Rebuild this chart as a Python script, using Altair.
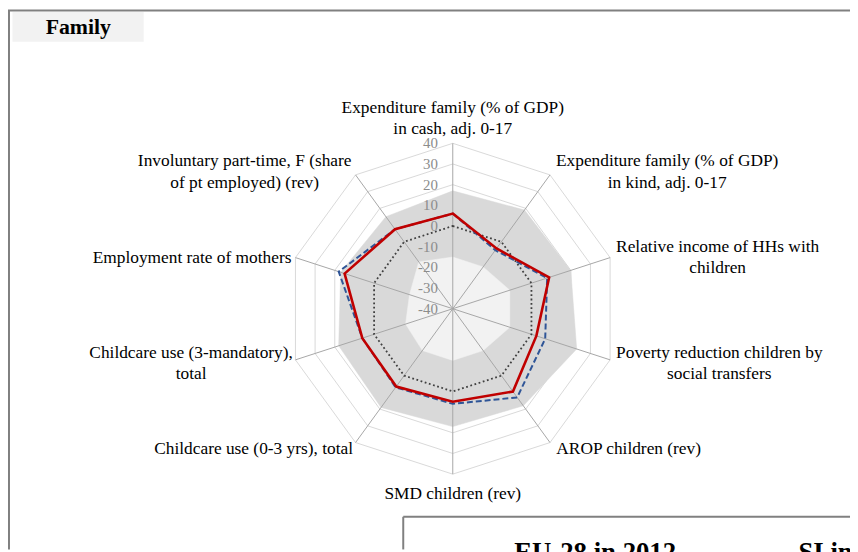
import altair as alt
import pandas as pd
import math

# ---------------- data ----------------
axis_labels = [
    "Expenditure family (% of GDP)\nin cash, adj. 0-17",
    "Expenditure family (% of GDP)\nin kind, adj. 0-17",
    "Relative income of HHs with\nchildren",
    "Poverty reduction children by\nsocial transfers",
    "AROP children (rev)",
    "SMD children (rev)",
    "Childcare use (0-3 yrs), total",
    "Childcare use (3-mandatory),\ntotal",
    "Employment rate of mothers",
    "Involuntary part-time, F (share\nof pt employed) (rev)",
]
country_2012 = [6, -4, 9, 2.5, 9.5, 5, 6.5, 6, 15, 7.5]
country_2008 = [6, -5, 8, 7, 13, 6, 7, 6, 18, 7.5]
eu_average = [0, 0, 0, 0, 0, 0, 0, 0, 0, 0]
band_max = [17, 19, 20, 23, 18, 17, 19, 18, 17, 15]
band_min = [-15, -15, -11, -11, -15, -15, -15, -16, -18, -12]
ticks = [-40, -30, -20, -10, 0, 10, 20, 30, 40]

# ---------------- layout ----------------
W, H = 850, 544
CX, CY = 449, 301
RADIUS_PX = 167
SPAN = ticks[-1] - ticks[0]
PX = RADIUS_PX / SPAN
FONT = "Liberation Serif"
LABEL_SIZE = 17.5
LINE_H = 21.5

n = len(axis_labels)
idx = list(range(n))
xs = alt.Scale(domain=[-CX / PX, (W - CX) / PX], nice=False, zero=False)
ys = alt.Scale(domain=[-(H - CY) / PX, CY / PX], nice=False, zero=False)

df = pd.DataFrame({
    "idx": idx, "si": country_2012, "si08": country_2008,
    "eu": eu_average, "hi": band_max, "lo": band_min,
})


def polar(chart, field):
    return (chart
            .transform_calculate(ang=f"datum.idx*2*PI/{n}")
            .transform_calculate(r=f"datum['{field}'] - ({ticks[0]})")
            .transform_calculate(px="datum.r*sin(datum.ang)",
                                 py="datum.r*cos(datum.ang)"))


X = alt.X("px:Q", scale=xs, axis=None)
Y = alt.Y("py:Q", scale=ys, axis=None)

# grid decagons
grid_df = pd.DataFrame([(lv, i) for lv in ticks[1:] for i in idx], columns=["level", "idx"])
grid = polar(alt.Chart(grid_df), "level").mark_line(
    interpolate="linear-closed", stroke="#d9d9d9", strokeWidth=1
).encode(x=X, y=Y, detail="level:N", order="idx:Q")

band_hi = polar(alt.Chart(df), "hi").mark_line(
    interpolate="linear-closed", fill="#d9d9d9", stroke="#d9d9d9", strokeWidth=0.5
).encode(x=X, y=Y, order="idx:Q")
band_lo = polar(alt.Chart(df), "lo").mark_line(
    interpolate="linear-closed", fill="#f2f2f2", stroke="#f2f2f2", strokeWidth=0.5
).encode(x=X, y=Y, order="idx:Q")

# spokes
spokes = (alt.Chart(df)
          .transform_calculate(ang=f"datum.idx*2*PI/{n}")
          .transform_calculate(x0="0", y0="0",
                               x1=f"{SPAN}*sin(datum.ang)", y1=f"{SPAN}*cos(datum.ang)")
          .mark_rule(stroke="#a6a6a6", strokeWidth=1)
          .encode(x=alt.X("x0:Q", scale=xs, axis=None), y=alt.Y("y0:Q", scale=ys, axis=None),
                  x2="x1:Q", y2="y1:Q"))

eu_line = polar(alt.Chart(df), "eu").mark_line(
    interpolate="linear-closed", stroke="#3f3f3f", strokeWidth=1.8, strokeDash=[1.8, 2.6]
).encode(x=X, y=Y, order="idx:Q")
line08 = polar(alt.Chart(df), "si08").mark_line(
    interpolate="linear-closed", stroke="#2f5597", strokeWidth=2, strokeDash=[6, 3]
).encode(x=X, y=Y, order="idx:Q")
line12 = polar(alt.Chart(df), "si").mark_line(
    interpolate="linear-closed", stroke="#c00000", strokeWidth=2.6
).encode(x=X, y=Y, order="idx:Q")

# tick labels
tick_df = pd.DataFrame({"t": ticks, "txt": [str(t) for t in ticks]})
tick_text = (alt.Chart(tick_df)
             .transform_calculate(px="0", py=f"datum.t - ({ticks[0]})")
             .mark_text(align="right", baseline="middle", dx=-15, font=FONT, fontSize=15,
                        color="#8c8c8c")
             .encode(x=X, y=Y, text="txt:N"))

# axis category labels
TW = {" ": 250, "(": 333, ")": 333, "%": 833, ",": 250, "-": 333, ".": 250,
      "A": 722, "D": 722, "E": 611, "F": 556, "G": 722, "H": 722, "I": 333, "M": 889,
      "O": 722, "P": 556, "R": 667, "S": 556,
      "a": 444, "b": 500, "c": 444, "d": 500, "e": 444, "f": 333, "g": 500, "h": 500,
      "i": 278, "j": 278, "k": 500, "l": 278, "m": 778, "n": 500, "o": 500, "p": 500,
      "q": 500, "r": 333, "s": 389, "t": 278, "u": 500, "v": 500, "w": 722, "x": 500,
      "y": 500, "z": 444}


def text_width(s):
    return max(sum(TW.get(ch, 500) for ch in line) for line in s.split("\n")) / 1000 * LABEL_SIZE


rows = []
for i, lab in enumerate(axis_labels):
    a = 2 * math.pi * i / n
    s, c = math.sin(a), math.cos(a)
    vx, vy = SPAN * s, SPAN * c
    extra = (lab.count("\n")) * LINE_H
    if abs(s) < 1e-6:
        pos = "top" if c > 0 else "bottom"
        lx = 0
        ly = vy + ((5 + extra) / PX if c > 0 else -11 / PX)
    else:
        pos = "side"
        half = text_width(lab) / 2 + (6 if s > 0 else 4)
        lx = vx + math.copysign(half / PX, s)
        ly = vy + (6 * c + extra / 2 - 2) / PX
    rows.append({"label": lab, "pos": pos, "px": lx, "py": ly})
lab_df = pd.DataFrame(rows)


def label_layer(pos, baseline):
    return (alt.Chart(lab_df).transform_filter(f"datum.pos == '{pos}'")
            .mark_text(align="center", baseline=baseline, font=FONT, fontSize=LABEL_SIZE,
                       lineBreak="\n", lineHeight=LINE_H, color="#000000")
            .encode(x=X, y=Y, text="label:N"))


labels = label_layer("top", "bottom") + label_layer("bottom", "top") + label_layer("side", "middle")

# ---------------- frame decorations ----------------
one = pd.DataFrame({"a": [0]})
frame_col = "#808080"
frame = (
    alt.Chart(one).mark_rule(stroke=frame_col, strokeWidth=2).encode(
        x=alt.value(0), x2=alt.value(W), y=alt.value(0))
    + alt.Chart(one).mark_rule(stroke=frame_col, strokeWidth=2).encode(
        x=alt.value(1), y=alt.value(0), y2=alt.value(H))
    + alt.Chart(one).mark_rect(fill="#f2f2f2").encode(
        x=alt.value(4.5), x2=alt.value(137), y=alt.value(1.5), y2=alt.value(31.5))
    + alt.Chart(one).mark_text(font=FONT, fontSize=22, fontWeight="bold", align="center",
                               baseline="middle", color="#000000").encode(
        x=alt.value(71), y=alt.value(17), text=alt.value("Family"))
    + alt.Chart(one).mark_rule(stroke=frame_col, strokeWidth=2).encode(
        x=alt.value(399), x2=alt.value(W), y=alt.value(511))
    + alt.Chart(one).mark_rule(stroke=frame_col, strokeWidth=2).encode(
        x=alt.value(399), y=alt.value(511), y2=alt.value(H))
    + alt.Chart(one).mark_text(font=FONT, fontSize=27, fontWeight="bold", align="left",
                               baseline="alphabetic", color="#000000").encode(
        x=alt.value(511), y=alt.value(556), text=alt.value("EU-28 in 2012"))
    + alt.Chart(one).mark_text(font=FONT, fontSize=27, fontWeight="bold", align="left",
                               baseline="alphabetic", color="#000000").encode(
        x=alt.value(798), y=alt.value(556), text=alt.value("SI in 2012"))
)

chart = alt.layer(
    grid, band_hi, band_lo, spokes, eu_line, line08, line12, tick_text, labels, frame
).properties(
    width=W, height=H, padding=0, autosize=alt.AutoSizeParams(type="none"),
    background="#ffffff"
).configure_view(stroke=None)

chart.save("out.html", embed_options={"renderer": "svg", "actions": False})
